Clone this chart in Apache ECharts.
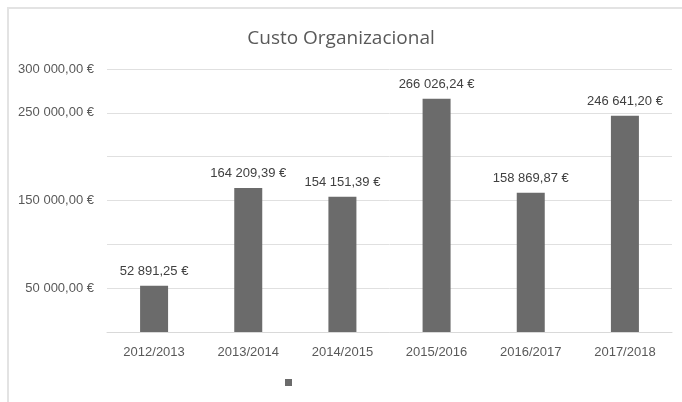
<!DOCTYPE html>
<html>
<head>
<meta charset="utf-8">
<script src="https://cdn.jsdelivr.net/npm/echarts@6/dist/echarts.min.js"></script>
<style>
  html, body { margin: 0; padding: 0; background: #fff; }
  #main { width: 682px; height: 402px; }
</style>
</head>
<body>
<div id="main"></div>
<script type="text/javascript">
    // dados do gráfico
    var anos = ['2012/2013', '2013/2014', '2014/2015', '2015/2016', '2016/2017', '2017/2018'];
    var custos = [52891.25, 164209.39, 154151.39, 266026.24, 158869.87, 246641.20];
    var ticksVisiveis = [50000, 150000, 250000, 300000];

    function formatEuro(v) {
        var parts = v.toFixed(2).split('.');
        var inteiro = parts[0].replace(/\B(?=(\d{3})+(?!\d))/g, ' ');
        return inteiro + ',' + parts[1] + ' €';
    }

    var myChart = echarts.init(document.getElementById('main'));

    var option = {
        animation: false,
        textStyle: { fontFamily: 'Liberation Sans, Arial, sans-serif' },
        title: {
            text: 'Custo Organizacional',
            left: 'center',
            top: 24,
            textStyle: { fontSize: 19, fontWeight: 'normal', color: '#595959', fontFamily: 'Open Sans, sans-serif' }
        },
        legend: {
            data: ['Custo'],
            left: 280,
            top: 374,
            itemWidth: 7,
            itemHeight: 7,
            icon: 'rect',
            formatter: function () { return ''; }
        },
        grid: { left: 107, right: 10, top: 69, bottom: 70 },
        graphic: [
            { type: 'polyline', shape: { points: [[8, 402], [8, 8], [682, 8]] },
              style: { stroke: '#e3e3e3', lineWidth: 2, fill: null } }
        ],
        xAxis: {
            type: 'category',
            data: anos,
            axisTick: { show: false },
            axisLine: { lineStyle: { color: '#d9d9d9' } },
            axisLabel: { color: '#595959', fontSize: 13, margin: 14 }
        },
        yAxis: {
            type: 'value',
            min: 0,
            max: 300000,
            interval: 50000,
            axisLine: { show: false },
            axisTick: { show: false },
            splitLine: { lineStyle: { color: '#e0e0e0' } },
            axisLabel: {
                color: '#595959',
                fontSize: 13,
                margin: 13,
                formatter: function (v) {
                    return ticksVisiveis.indexOf(v) >= 0 ? formatEuro(v) : '';
                }
            }
        },
        series: [
            {
                name: 'Custo',
                type: 'bar',
                data: custos,
                barWidth: 28,
                itemStyle: { color: '#6b6b6b' },
                label: {
                    show: true,
                    position: 'top',
                    distance: 8,
                    color: '#404040',
                    fontSize: 13,
                    formatter: function (p) { return formatEuro(p.value); }
                }
            }
        ]
    };

    myChart.setOption(option);
</script>
</body>
</html>
